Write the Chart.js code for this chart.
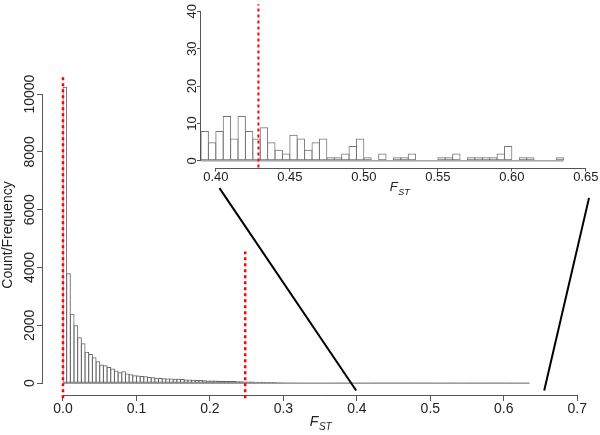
<!DOCTYPE html>
<html>
<head>
<meta charset="utf-8">
<script src="https://cdn.jsdelivr.net/npm/chart.js@4.4.1/dist/chart.umd.min.js"></script>
<style>
  body { margin: 0; background: #fff; }
  #wrap { position: relative; width: 600px; height: 435px; }
  #main { position: absolute; left: 0; top: 0; }
  #inset { position: absolute; left: 180px; top: 0; }
</style>
</head>
<body>
<div id="wrap">
  <canvas id="main" width="600" height="435"></canvas>
  <canvas id="inset" width="420" height="200"></canvas>
</div>
<script>
const FONT = "'Liberation Sans', Arial, sans-serif";
const binWidth = 0.005;

// main histogram: counts per 0.005 bin from 0.0 up to 0.39
const mainBinStart = 0;
const headCounts = [
  10250, 3800, 2400, 2000, 1590, 1380, 1090, 1010, 900, 760,
  645, 620, 555, 505, 440, 380, 410, 330, 310, 270,
  265, 250, 235, 215, 205, 190, 180, 170, 160, 165,
  155, 148, 140, 130, 125, 120, 112, 105, 100, 95,
  92, 88, 85, 80, 78, 72, 70, 66, 64, 60,
  58, 55, 52, 48, 45, 42, 40, 37, 34, 30,
  24, 22, 20, 19, 18, 17, 15, 14, 13, 12,
  12, 11, 10, 10, 9, 9, 8, 8
];
// tail (0.39 - 0.635), same bins as the zoomed inset
const insetBinStart = 0.39;
const insetCounts = [
  8, 5, 8, 12, 6, 12, 8, 6, 9, 5,
  3, 2, 7, 6, 3, 5, 6, 1, 1, 2,
  4, 6, 1, 0, 2, 0, 1, 1, 2, 0,
  0, 0, 1, 1, 2, 0, 1, 1, 1, 1,
  2, 4, 0, 1, 1, 0, 0, 0, 1
];
const mainCounts = headCounts.concat(insetCounts);

const mainXTicks = [0, 0.1, 0.2, 0.3, 0.4, 0.5, 0.6, 0.7];
const mainYTicks = [0, 2000, 4000, 6000, 8000, 10000];
const insetXTicks = [0.40, 0.45, 0.50, 0.55, 0.60, 0.65];
const insetYTicks = [0, 10, 20, 30, 40];

// red dashed cut-offs
const mainCutX = [0, 0.248];
const mainCutTop = [10660, 4550];
const insetCutX = 0.4288;

// black zoom connectors (main chart data units)
const zoomLeft = [{ x: 0.213, y: 6745 }, { x: 0.399, y: -256 }];
const zoomRight = [{ x: 0.716, y: 6410 }, { x: 0.655, y: -256 }];

const toBars = (counts, start) => counts.map((c, i) => ({ x: start + (i + 0.5) * binWidth, y: c }));

// R-style axis lines (first to last tick) and the F_ST label
const rAxes = {
  id: 'rAxes',
  afterDraw(chart, args, opts) {
    const { ctx, chartArea, scales: { x, y } } = chart;
    ctx.save();
    ctx.strokeStyle = '#555';
    ctx.lineWidth = 1;
    ctx.beginPath();
    const yb = Math.round(chartArea.bottom) + 0.5;
    ctx.moveTo(x.getPixelForValue(x.ticks[0].value), yb);
    ctx.lineTo(x.getPixelForValue(x.ticks[x.ticks.length - 1].value), yb);
    const xl = Math.round(chartArea.left) - 0.5;
    ctx.moveTo(xl, y.getPixelForValue(y.ticks[0].value));
    ctx.lineTo(xl, y.getPixelForValue(y.ticks[y.ticks.length - 1].value));
    ctx.stroke();

    const cx = (chartArea.left + chartArea.right) / 2;
    const big = 'italic ' + opts.size + 'px ' + FONT;
    const small = 'italic ' + Math.round(opts.size * 0.72) + 'px ' + FONT;
    ctx.fillStyle = '#222';
    ctx.textBaseline = 'alphabetic';
    ctx.font = big;
    const wF = ctx.measureText('F').width;
    ctx.font = small;
    const wS = ctx.measureText('ST').width;
    const x0 = cx - (wF + wS) / 2;
    ctx.font = big;
    ctx.fillText('F', x0, opts.titleY);
    ctx.font = small;
    ctx.fillText('ST', x0 + wF + 0.5, opts.titleY + opts.size * 0.3);
    ctx.restore();
  }
};

function lineSet(points, color, width, dash) {
  return {
    type: 'line',
    data: points,
    borderColor: color,
    borderWidth: width,
    borderDash: dash || [],
    pointRadius: 0,
    fill: false,
    tension: 0,
    clip: false
  };
}

function axisScales(o) {
  return {
    x: {
      type: 'linear',
      offset: false,
      min: o.xMin,
      max: o.xMax,
      afterBuildTicks: s => { s.ticks = o.xTicks.map(v => ({ value: v })); },
      afterFit: s => { s.height = o.xHeight; },
      grid: { display: true, offset: false, drawOnChartArea: false, drawTicks: true, tickLength: o.tick, color: '#555' },
      border: { display: false },
      ticks: {
        autoSkip: false, maxRotation: 0, padding: o.xPad, color: '#222',
        font: { family: FONT, size: o.size },
        callback: v => v.toFixed(o.dec)
      }
    },
    y: {
      type: 'linear',
      min: o.yMin,
      max: o.yMax,
      afterBuildTicks: s => { s.ticks = o.yTicks.map(v => ({ value: v })); },
      afterFit: s => { s.width = o.yWidth; },
      grid: { display: true, drawOnChartArea: false, drawTicks: true, tickLength: o.tick, color: '#555' },
      border: { display: false },
      title: o.yTitle ? {
        display: true, text: o.yTitle, color: '#222', padding: 0,
        font: { family: FONT, size: o.size }
      } : { display: false },
      ticks: {
        autoSkip: false, minRotation: 90, maxRotation: 90, crossAlign: 'center',
        padding: o.yPad, color: '#222',
        font: { family: FONT, size: o.size },
        callback: v => String(v)
      }
    }
  };
}

const barStyle = {
  type: 'bar',
  backgroundColor: 'rgba(255,255,255,0)',
  borderColor: '#666',
  borderWidth: 1,
  borderSkipped: false,
  categoryPercentage: 1
};

new Chart(document.getElementById('main'), {
  type: 'bar',
  data: {
    datasets: [
      lineSet(zoomLeft, '#000', 2),
      lineSet(zoomRight, '#000', 2),
      lineSet([{ x: mainCutX[0], y: -520 }, { x: mainCutX[0], y: mainCutTop[0] }], '#ff0000', 2.5, [3, 3]),
      lineSet([{ x: mainCutX[1], y: -520 }, { x: mainCutX[1], y: mainCutTop[1] }], '#ff0000', 2.5, [3, 3]),
      lineSet([{ x: mainBinStart, y: 0 }, { x: mainBinStart + mainCounts.length * binWidth, y: 0 }], '#666', 1),
      Object.assign({ data: toBars(mainCounts, mainBinStart), barPercentage: 1.27 }, barStyle)
    ]
  },
  options: {
    responsive: false,
    animation: false,
    devicePixelRatio: 1,
    layout: { padding: { top: 75, right: 2, left: 0, bottom: 0 } },
    plugins: {
      legend: { display: false },
      tooltip: { enabled: false },
      rAxes: { size: 14, titleY: 426 }
    },
    scales: axisScales({
      xMin: -0.0272, xMax: 0.7282, xTicks: mainXTicks, xHeight: 40, xPad: 0, dec: 1,
      yMin: -410, yMax: 10660, yTicks: mainYTicks, yWidth: 43, yPad: -13,
      tick: 6, size: 14, yTitle: 'Count/Frequency'
    })
  },
  plugins: [rAxes]
});

new Chart(document.getElementById('inset'), {
  type: 'bar',
  data: {
    datasets: [
      lineSet([{ x: insetCutX, y: -1.8 }, { x: insetCutX, y: 41.9 }], '#ff0000', 2, [3, 3]),
      lineSet([{ x: insetBinStart, y: 0 }, { x: insetBinStart + insetCounts.length * binWidth, y: 0 }], '#777', 1),
      Object.assign({ data: toBars(insetCounts, insetBinStart), barPercentage: 1.135 }, barStyle, { borderColor: '#777' })
    ]
  },
  options: {
    responsive: false,
    animation: false,
    devicePixelRatio: 1,
    layout: { padding: { top: 3, right: 2, left: 0, bottom: 0 } },
    plugins: {
      legend: { display: false },
      tooltip: { enabled: false },
      rAxes: { size: 13, titleY: 191 }
    },
    scales: axisScales({
      xMin: 0.39, xMax: 0.6582, xTicks: insetXTicks, xHeight: 32.4, xPad: -2, dec: 2,
      yMin: -1.8, yMax: 41.6, yTicks: insetYTicks, yWidth: 21, yPad: -2.5,
      tick: 4, size: 13
    })
  },
  plugins: [rAxes]
});
</script>
</body>
</html>
